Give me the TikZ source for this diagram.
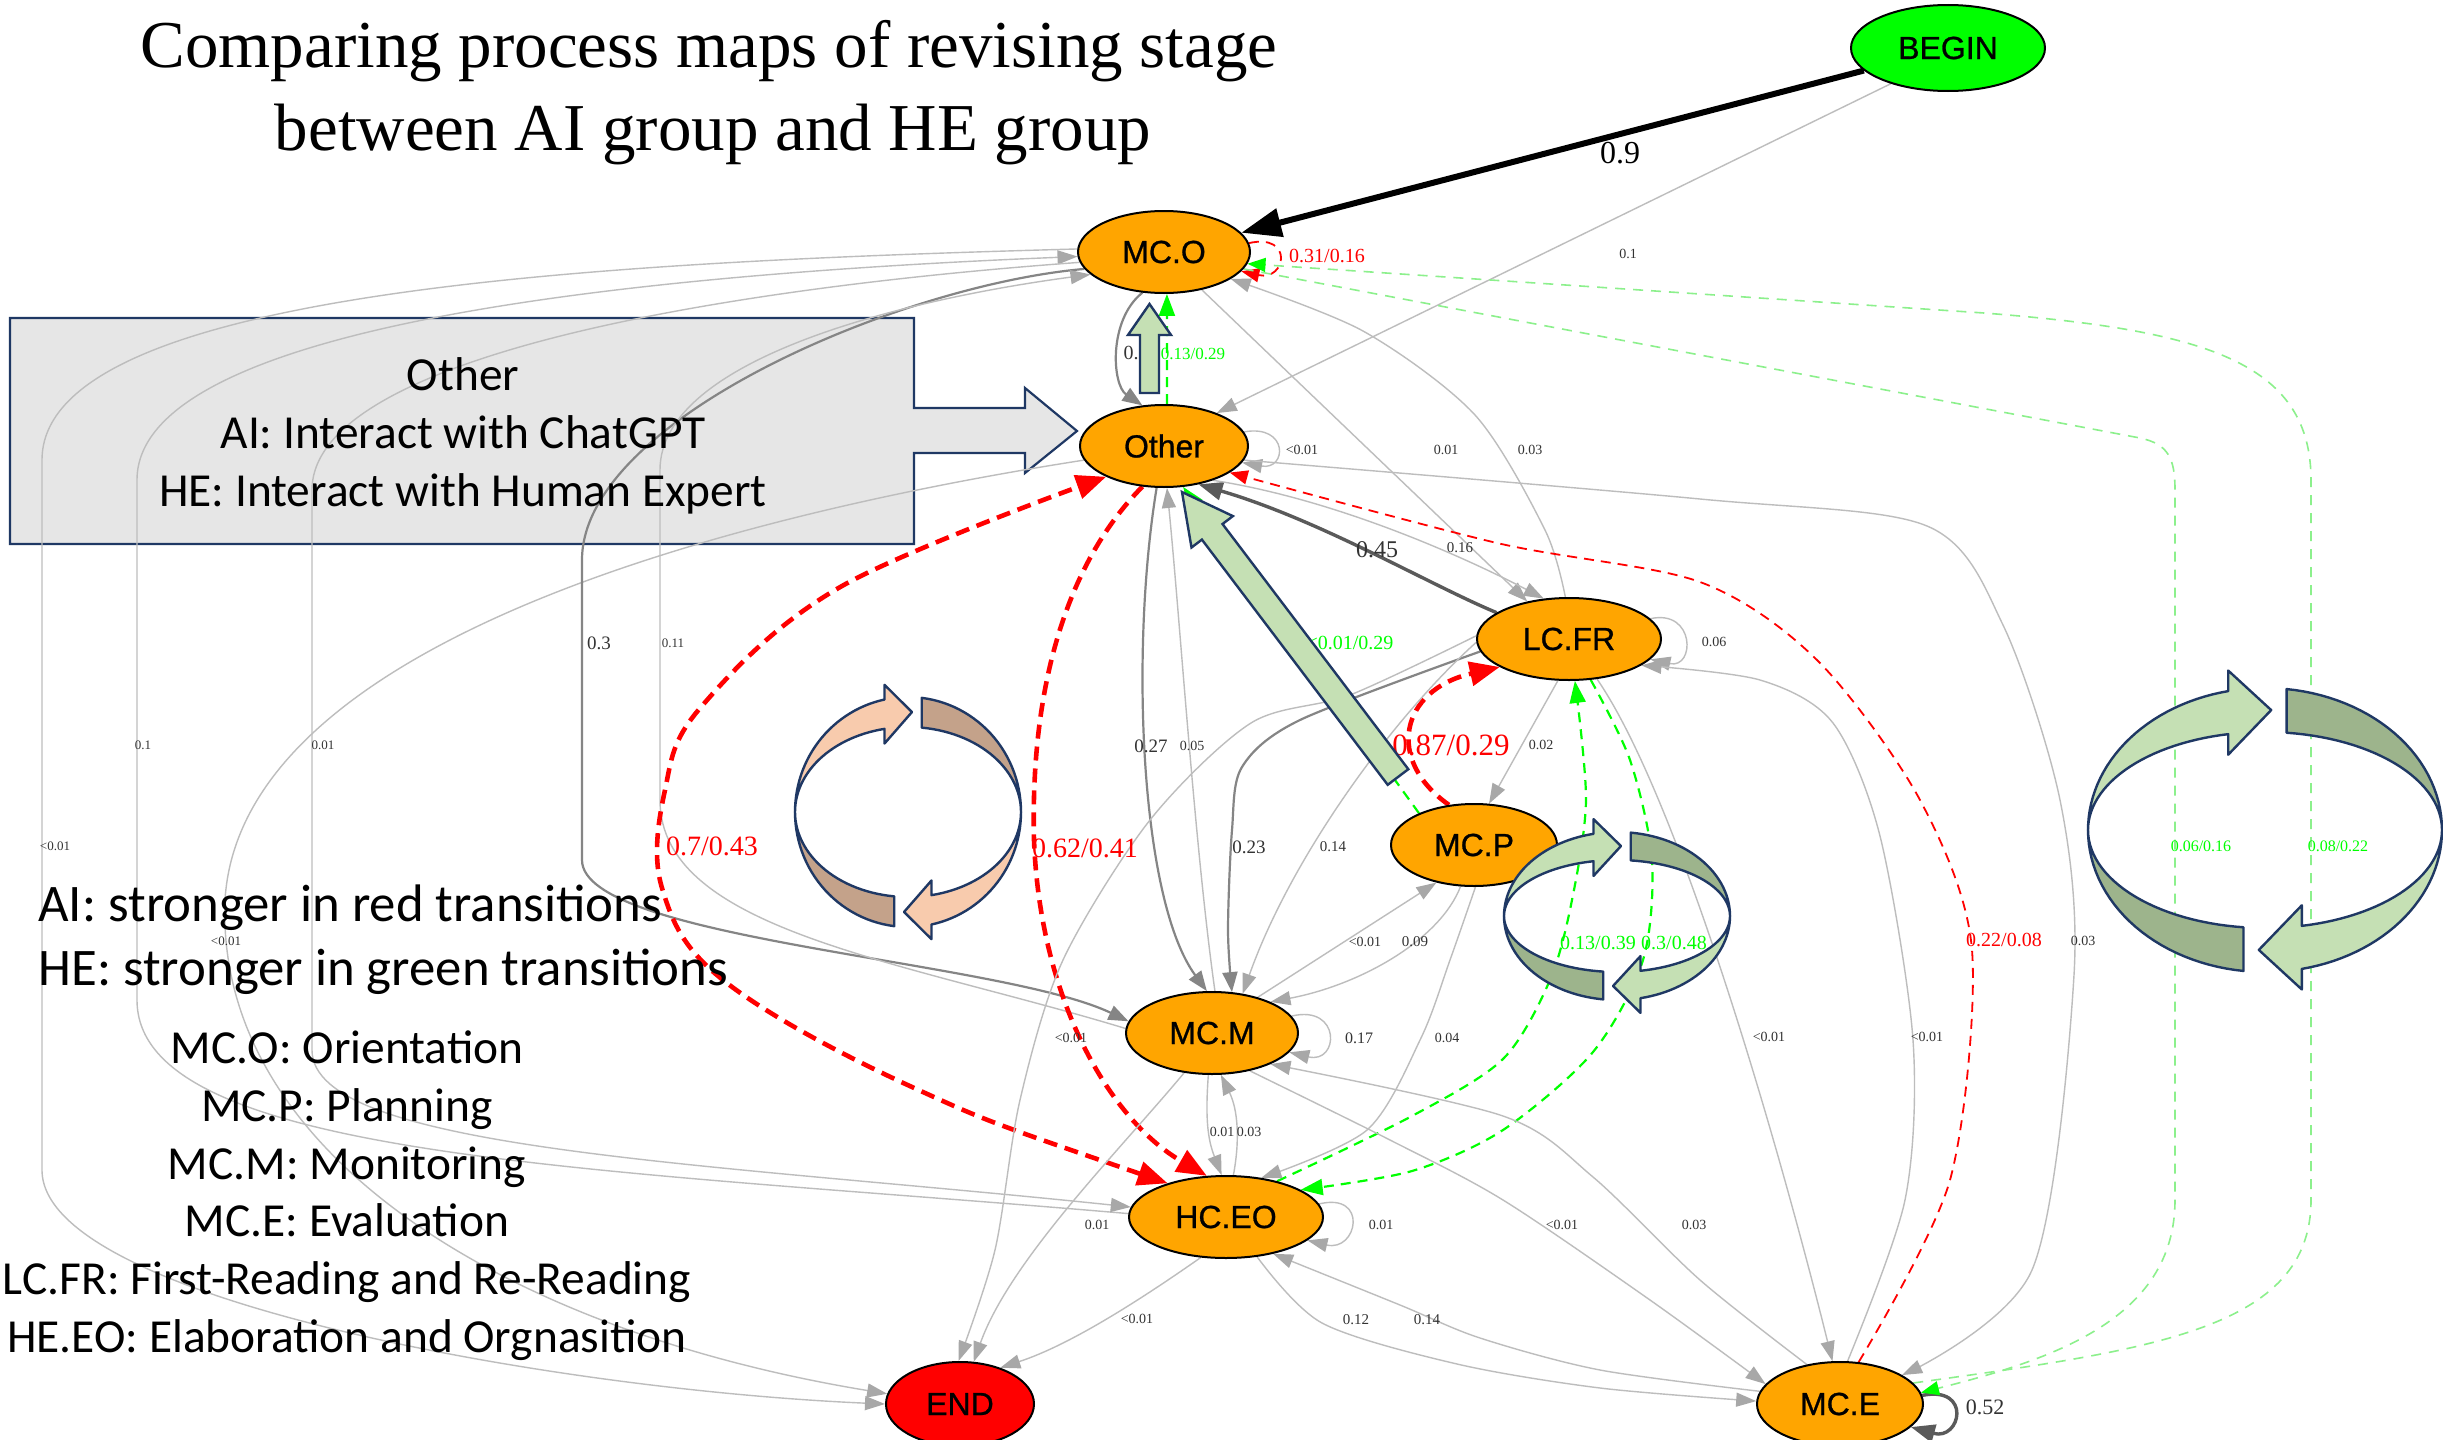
\documentclass[tikz,border=0pt]{standalone}
\usepackage{fontspec}
\setmainfont{Liberation Serif}
\newfontfamily\nodefont[FakeBold=0.8]{Liberation Sans}
\newfontfamily\notefont{Carlito}
\usetikzlibrary{arrows.meta,shapes.geometric}
\pgfdeclarelayer{bg}
\pgfdeclarelayer{edges}
\pgfsetlayers{bg,edges,main}

\definecolor{nodeor}{HTML}{FFA500}
\definecolor{gline}{HTML}{BDBDBD}
\definecolor{gtip}{HTML}{A8A8A8}
\definecolor{dgline}{HTML}{858585}
\definecolor{dkline}{HTML}{5A5A5A}
\definecolor{gr}{HTML}{00FF00}
\definecolor{lgr}{HTML}{8CF08C}
\definecolor{rd}{HTML}{FF0000}
\definecolor{ringline}{HTML}{1F3864}
\definecolor{peachL}{HTML}{F8CBAD}
\definecolor{peachD}{HTML}{C4A28A}
\definecolor{grnL}{HTML}{C5E0B4}
\definecolor{grnD}{HTML}{9DB48C}
\definecolor{boxfill}{HTML}{E6E6E6}
\definecolor{labcol}{HTML}{333333}

\tikzset{
  state/.style={ellipse, draw=black, line width=1pt, fill=nodeor, inner sep=0pt,
    minimum height=41pt, font={\nodefont\fontsize{16}{16}\selectfont}},
  lab/.style={inner sep=0pt, text=labcol, font={\fontsize{7}{8}\selectfont}},
  fs/.style={font={\fontsize{#1}{#1}\selectfont}},
  rlab/.style={lab, text=rd},
  glab/.style={lab, text=gr},
  ge/.style={draw=gline, line width=0.7pt, -{Triangle[length=10pt,width=7pt,color=gtip]}},
  dge/.style={draw=dgline, line width=1.1pt, -{Triangle[length=10pt,width=7.5pt]}},
  dke/.style={draw=dkline, line width=1.7pt, -{Triangle[length=12pt,width=9pt]}},
  blk/.style={draw=black, line width=3pt, -{Triangle[length=20pt,width=14pt]}},
  rthk/.style={draw=rd, line width=2.3pt, dash pattern=on 7pt off 4pt, -{Triangle[length=15pt,width=12pt]}},
  rthn/.style={draw=rd, line width=0.9pt, dash pattern=on 5pt off 3.5pt, -{Triangle[length=9pt,width=7pt]}},
  gdsh/.style={draw=gr, line width=1.1pt, dash pattern=on 5pt off 3.5pt, -{Triangle[length=11pt,width=8pt]}},
  lgdsh/.style={draw=lgr, line width=0.8pt, dash pattern=on 5pt off 4pt, -{Triangle[length=9pt,width=7pt,color=gr]}},
  blockarrow/.style={fill=grnL, draw=ringline, line width=1.2pt, line join=miter},
  note/.style={inner sep=0pt, anchor=base, font={\notefont\fontsize{23.7}{28}\selectfont}},
}

% twisted circular double arrow: center, x radius, outer y radius, inner y radius,
% light colour, dark colour, arrow-head overhang
\newcommand\ringicon[7]{%
\begin{scope}[shift={#1}, yscale=-1, line width=1.2pt, line join=round]
  \filldraw[fill=#6, draw=ringline]
    plot[domain=83:0, samples=30] ({#2*cos(\x)},{#3*sin(\x)})
    -- plot[domain=0:83, samples=30] ({#2*cos(\x)},{#4*sin(\x)}) -- cycle;
  \filldraw[fill=#6, draw=ringline]
    plot[domain=-97:-180, samples=30] ({#2*cos(\x)},{#3*sin(\x)})
    -- plot[domain=-180:-97, samples=30] ({#2*cos(\x)},{#4*sin(\x)}) -- cycle;
  \filldraw[fill=#5, draw=ringline]
    plot[domain=180:102, samples=30] ({#2*cos(\x)},{#3*sin(\x)})
    -- ({#2*cos(102)},{(#3+#7)*sin(102)})
    -- ({#2*cos(88)},{(#3+#4)/2*sin(88)})
    -- ({#2*cos(102)},{(#4-#7)*sin(102)})
    -- plot[domain=102:180, samples=30] ({#2*cos(\x)},{#4*sin(\x)}) -- cycle;
  \filldraw[fill=#5, draw=ringline]
    plot[domain=0:-78, samples=30] ({#2*cos(\x)},{#3*sin(\x)})
    -- ({#2*cos(-78)},{(#3+#7)*sin(-78)})
    -- ({#2*cos(-92)},{(#3+#4)/2*sin(-92)})
    -- ({#2*cos(-78)},{(#4-#7)*sin(-78)})
    -- plot[domain=-78:0, samples=30] ({#2*cos(\x)},{#4*sin(\x)}) -- cycle;
\end{scope}}

\begin{document}
\begin{tikzpicture}[x=0.5pt,y=-0.5pt]
\useasboundingbox (0,0) rectangle (2443,1440);
\begin{pgfonlayer}{bg}
  \fill[white] (0,0) rectangle (2443,1440);
  % callout pointing at the Other state
  \filldraw[fill=boxfill, draw=ringline, line width=1.1pt, line join=miter]
    (10,318) -- (914,318) -- (914,408) -- (1025,408) -- (1025,388) -- (1077,431)
    -- (1025,473) -- (1025,453) -- (914,453) -- (914,544) -- (10,544) -- cycle;
\end{pgfonlayer}

% states
\node[state, minimum width=86pt] (MCO) at (1164,252) {MC.O};
\node[state, minimum width=84pt] (Other) at (1164,446) {Other};
\node[state, minimum width=92pt] (LCFR) at (1569,639) {LC.FR};
\node[state, minimum width=83pt] (MCP) at (1474,845) {MC.P};
\node[state, minimum width=86pt] (MCM) at (1212,1033) {MC.M};
\node[state, minimum width=97pt] (HCEO) at (1226,1217) {HC.EO};
\node[state, minimum width=74pt, minimum height=42pt, fill=rd] (END) at (960,1404) {END};
\node[state, minimum width=83pt, minimum height=42pt] (MCE) at (1840,1404) {MC.E};
\node[state, minimum width=97pt, minimum height=43pt, fill=gr] (BEGIN) at (1948,48) {BEGIN};

\begin{pgfonlayer}{edges}
  % long detours on the left
  \draw[ge] (MCO.178) .. controls (600,262) and (42,290) .. (42,460)
    -- (42,1170) .. controls (42,1300) and (560,1390) .. (END.180);
  \draw[ge] (HCEO.178) .. controls (600,1168) and (137,1160) .. (137,1000)
    -- (137,480) .. controls (137,330) and (600,276) .. (MCO.183);
  \draw[ge] (MCO.187) .. controls (700,290) and (312,360) .. (312,490)
    -- (312,1050) .. controls (312,1150) and (700,1162) .. (HCEO.174);
  \draw[ge] (Other.190) .. controls (700,520) and (240,650) .. (225,900)
    .. controls (215,1150) and (500,1330) .. (END.172);
  \draw[dge] (MCO.192) .. controls (900,285) and (582,420) .. (582,560)
    -- (582,860) .. controls (582,940) and (1000,960) .. (MCM.172);
  \draw[ge] (MCM.177) .. controls (900,960) and (660,930) .. (660,800)
    -- (660,470) .. controls (660,360) and (900,300) .. (MCO.197);

  % BEGIN
  \draw[blk] (BEGIN.-165) -- (MCO.14);
  \draw[ge] (BEGIN.-148) -- (Other.32);

  % MC.O and Other
  \draw[rthn] (MCO.6) .. controls +(45,-10) and +(45,10) .. (MCO.-14);
  \draw[dge] (MCO.-118) .. controls (1108,320) and (1112,385) .. (Other.118);
  \draw[gdsh] (Other.86) -- (MCO.-86);
  \draw[ge] (Other.10) .. controls +(45,-8) and +(45,8) .. (Other.-12);
  \draw[ge] (MCO.-45) -- (LCFR.138);
  \draw[ge] plot[smooth] coordinates {(LCFR.95) (1545,530) (1475,415) (1363,331) (MCO.-22)};
  \draw[dke] (LCFR.160) .. controls (1430,585) and (1320,520) .. (Other.-48);
  \draw[ge] (Other.-35) .. controls (1340,500) and (1470,560) .. (LCFR.122);
  \draw[rthn] plot[smooth] coordinates {(MCE.66) (1950,1180) (1972,950) (1920,800) (1818,661) (1700,582) (1497,543) (Other.-22)};
  \draw[ge] plot[smooth] coordinates {(Other.-10) (1700,499) (1927,526) (2003,625) (2060,800) (2074,975) (2032,1270) (MCE.25)};
  \draw[gdsh] (MCP.150) -- (Other.-65);
  \draw[rthk] (Other.-118) .. controls (1070,560) and (1030,680) .. (1034,840) .. controls (1040,1000) and (1110,1120) .. (HCEO.115);
  \draw[rthk, {Triangle[length=15pt,width=12pt]}-{Triangle[length=15pt,width=12pt]}] plot[smooth, tension=0.6] coordinates {(HCEO.150) (912,1087) (723,980) (662,888) (665,790) (701,707) (842,586) (Other.-152)};

  % Other / MC.M
  \draw[dge] (Other.-100) .. controls (1130,650) and (1140,900) .. (MCM.97);
  \draw[ge] (MCM.86) .. controls (1195,850) and (1180,620) .. (Other.-86);

  % LC.FR
  \draw[ge] (LCFR.14) .. controls +(45,-10) and +(45,10) .. (LCFR.-14);
  \draw[rthk] (MCP.122) .. controls (1385,760) and (1400,690) .. (LCFR.-158);
  \draw[ge] (LCFR.-105) -- (MCP.70);
  \draw[dge] plot[smooth] coordinates {(LCFR.-172) (1300,720) (1242,767) (1232,830) (1228,930) (MCM.64)};
  \draw[ge] (LCFR.-178) .. controls (1390,720) and (1290,860) .. (MCM.52);
  \draw[ge] plot[smooth] coordinates {(LCFR.178) (1350,695) (1251,723) (1150,820) (1063,960) (1020,1100) (995,1250) (END.92)};
  \draw[gdsh] plot[smooth] coordinates {(HCEO.35) (1412,1116) (1503,1059) (1550,980) (1572,900) (1586,800) (LCFR.-82)};
  \draw[gdsh] plot[smooth] coordinates {(LCFR.-62) (1630,760) (1652,860) (1643,960) (1593,1052) (1503,1130) (1412,1171) (HCEO.20)};
  \draw[ge] (LCFR.-55) .. controls (1680,800) and (1780,1150) .. (MCE.100);
  \draw[ge] plot[smooth] coordinates {(MCE.80) (1905,1200) (1913,1040) (1880,836) (1833,723) (1760,680) (LCFR.-20)};

  % MC.P
  \draw[ge] (MCM.38) -- (MCP.-135);
  \draw[ge] (MCP.-108) .. controls (1440,940) and (1360,985) .. (MCM.28);
  \draw[ge] plot[smooth] coordinates {(MCP.-88) (1450,960) (1421,1038) (1367,1130) (HCEO.48)};

  % MC.M / HC.EO
  \draw[ge] (MCM.12) .. controls +(50,-12) and +(50,12) .. (MCM.-14);
  \draw[ge] (HCEO.8) .. controls +(50,-12) and +(50,12) .. (HCEO.-16);
  \draw[ge] (MCM.-95) .. controls (1205,1120) and (1208,1140) .. (HCEO.96);
  \draw[ge] (HCEO.80) .. controls (1240,1140) and (1238,1110) .. (MCM.-78);
  \draw[ge] plot[smooth] coordinates {(MCM.-45) (1390,1140) (1503,1200) (1650,1300) (MCE.165)};
  \draw[ge] plot[smooth] coordinates {(MCE.130) (1700,1280) (1593,1177) (1503,1116) (MCM.-28)};
  \draw[ge] plot[smooth] coordinates {(HCEO.-52) (1322,1323) (1457,1364) (1600,1388) (MCE.178)};
  \draw[ge] plot[smooth] coordinates {(MCE.171) (1600,1370) (1480,1338) (1400,1305) (HCEO.-38)};
  \draw[ge] (HCEO.-122) .. controls (1140,1300) and (1070,1345) .. (END.42);
  \draw[ge] (MCM.-125) .. controls (1120,1150) and (1010,1260) .. (END.72);

  % MC.E
  \draw[dke] (MCE.6) .. controls +(50,-10) and +(50,14) .. (MCE.-18);
  \draw[lgdsh] (MCE.16) .. controls (2150,1350) and (2311,1330) .. (2311,1200)
    -- (2311,480) .. controls (2311,360) and (2200,330) .. (1984,313) -- (MCO.-8);
  \draw[lgdsh] (MCO.-12) -- (2140,438) .. controls (2168,444) and (2175,458) .. (2175,490)
    -- (2175,1200) .. controls (2175,1320) and (2050,1360) .. (MCE.8);
\end{pgfonlayer}

% transition labels
\node[lab, fs=16, text=black] (l01) at (1620,153) {0.9};
\node[lab] (l02) at (1628,254) {0.1};
\node[rlab, fs=10] (l03) at (1327,256) {0.31/0.16};
\node[lab, fs=10, anchor=east] (l04) at (1139,353) {0.};
\node[glab, fs=8.5] (l05) at (1193,354) {0.13/0.29};
\node[lab] (l06) at (1302,450) {<0.01};
\node[lab] (l07) at (1446,450) {0.01};
\node[lab] (l08) at (1530,450) {0.03};
\node[lab, fs=12] (l09) at (1377,550) {0.45};
\node[lab, fs=7.5] (l10) at (1460,548) {0.16};
\node[lab] (l11) at (1714,642) {0.06};
\node[glab, fs=10] (l12) at (1350,643) {<0.01/0.29};
\node[rlab, fs=15.5] (l13) at (1451,745) {0.87/0.29};
\node[lab] (l14) at (1541,745) {0.02};
\node[lab, fs=9.5] (l15) at (1151,746) {0.27};
\node[lab] (l16) at (1192,746) {0.05};
\node[lab, fs=9.5] (l17) at (1249,847) {0.23};
\node[lab, fs=7.5] (l18) at (1333,847) {0.14};
\node[rlab, fs=14] (l19) at (1085,848) {0.62/0.41};
\node[rlab, fs=14] (l20) at (712,846) {0.7/0.43};
\node[lab] (l21) at (1365,942) {<0.01};
\node[lab, fs=7.5] (l22) at (1415,942) {0.09};
\node[glab, fs=10] (l23) at (1598,943) {0.13/0.39};
\node[glab, fs=10] (l24) at (1674,943) {0.3/0.48};
\node[rlab, fs=10] (l25) at (2004,940) {0.22/0.08};
\node[lab] (l26) at (2083,941) {0.03};
\node[glab, fs=8] (l27) at (2201,846) {0.06/0.16};
\node[glab, fs=8] (l28) at (2338,846) {0.08/0.22};
\node[lab] (l29) at (1769,1037) {<0.01};
\node[lab] (l30) at (1927,1037) {<0.01};
\node[lab] (l31) at (1071,1038) {<0.01};
\node[lab, fs=8] (l32) at (1359,1038) {0.17};
\node[lab] (l33) at (1447,1038) {0.04};
\node[lab] (l34) at (1222,1132) {0.01};
\node[lab] (l35) at (1249,1132) {0.03};
\node[lab] (l36) at (1381,1225) {0.01};
\node[lab] (l37) at (1097,1225) {0.01};
\node[lab] (l38) at (1562,1225) {<0.01};
\node[lab] (l39) at (1694,1225) {0.03};
\node[lab] (l40) at (1137,1319) {<0.01};
\node[lab, fs=7.5] (l41) at (1356,1320) {0.12};
\node[lab, fs=7.5] (l42) at (1427,1320) {0.14};
\node[lab, fs=11] (l43) at (1985,1407) {0.52};
\node[lab, fs=9.5] (l44) at (599,643) {0.3};
\node[lab, fs=6.5] (l45) at (673,643) {0.11};
\node[lab, fs=6.5] (l46) at (143,745) {0.1};
\node[lab, fs=6.5] (l47) at (323,745) {0.01};
\node[lab, fs=6.5] (l48) at (55,846) {<0.01};
\node[lab, fs=6.5] (l49) at (226,941) {<0.01};

% block arrows highlighting the HE transitions into Other and MC.O
\filldraw[blockarrow] (1140,393) -- (1140,335) -- (1128,335) -- (1149.5,304) -- (1171,335) -- (1159,335) -- (1159,393) -- cycle;
\filldraw[blockarrow] (1408.3,769.2) -- (1222.5,524.0) -- (1232.9,516.1) -- (1182,492) -- (1191.5,547.5) -- (1201.9,539.6) -- (1387.7,784.8) -- cycle;

% cycle icons
\ringicon{(908,812)}{113}{115}{85}{peachL}{peachD}{15}
\ringicon{(1617,916)}{113}{84}{56}{grnL}{grnD}{15}
\ringicon{(2265,830)}{177}{142}{98}{grnL}{grnD}{21}

% title
\node[inner sep=0pt, anchor=base, font={\fontsize{33.5}{40}\selectfont}] (title1) at (709,68) {Comparing process maps of revising stage};
\node[inner sep=0pt, anchor=base, font={\fontsize{33.5}{40}\selectfont}] (title2) at (713,150) {between AI group and HE group};

% callout text
\node[note] (c1) at (463,390) {Other};
\node[note] (c2) at (463,448) {AI: Interact with ChatGPT};
\node[note] (c3) at (463,506) {HE: Interact with Human Expert};

% legend
\node[note, anchor=base west, font={\notefont\fontsize{26.4}{30}\selectfont}] (g1) at (38,921) {AI: stronger in red transitions};
\node[note, anchor=base west, font={\notefont\fontsize{26.4}{30}\selectfont}] (g2) at (38,985) {HE: stronger in green transitions};
\node[note] (k1) at (347,1063) {MC.O: Orientation};
\node[note] (k2) at (347,1121) {MC.P: Planning};
\node[note] (k3) at (347,1179) {MC.M: Monitoring};
\node[note] (k4) at (347,1236) {MC.E: Evaluation};
\node[note] (k5) at (347,1294) {LC.FR: First-Reading and Re-Reading};
\node[note] (k6) at (347,1352) {HE.EO: Elaboration and Orgnasition};
\end{tikzpicture}
\end{document}
